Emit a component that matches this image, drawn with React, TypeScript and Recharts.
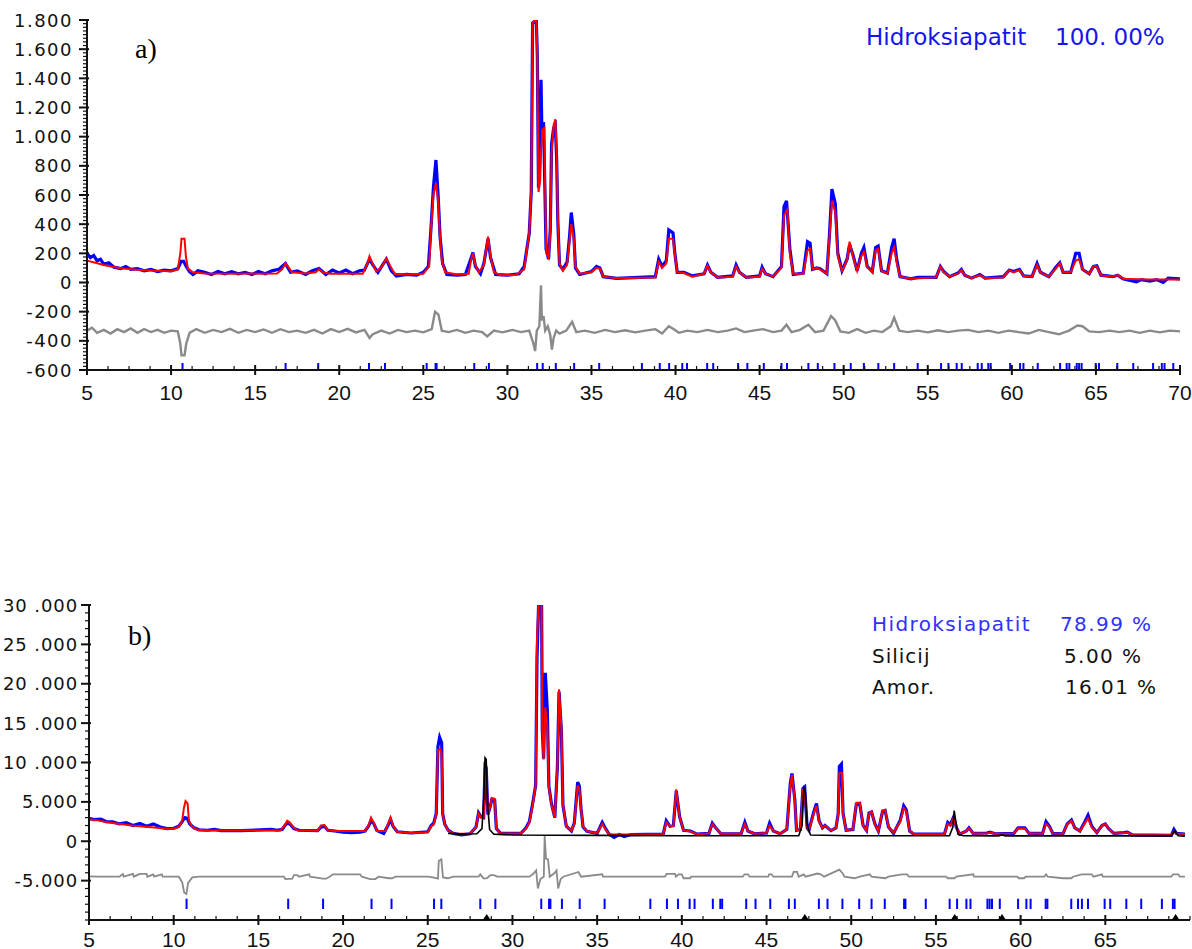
import React from 'react';
import { ComposedChart, Line, Scatter, XAxis, YAxis, ReferenceLine } from 'recharts';

type Pair = [number, number];

// ---- panel a) : 100 % hydroxyapatite ----
const obsA: Pair[] = [
  [5, 200], [5.2, 170], [5.4, 185], [5.6, 150], [5.8, 160], [6.0, 125], [6.3, 135], [6.6, 105], [7.0, 95], [7.3, 110],
  [7.6, 90], [8.0, 95], [8.4, 80], [8.8, 90], [9.2, 75], [9.6, 85], [10.0, 80], [10.4, 95], [10.6, 145], [10.75, 145],
  [10.9, 110], [11.1, 75], [11.3, 55], [11.6, 80], [12.0, 70], [12.4, 55], [12.8, 75], [13.2, 60], [13.6, 75], [14.0, 60],
  [14.4, 70], [14.8, 55], [15.2, 75], [15.6, 60], [16.0, 80], [16.4, 90], [16.8, 130], [17.1, 70], [17.5, 80], [18.0, 55],
  [18.4, 80], [18.8, 95], [19.2, 55], [19.6, 85], [20.0, 65], [20.4, 85], [20.8, 60], [21.2, 80], [21.5, 85], [21.8, 160],
  [22.0, 120], [22.3, 70], [22.8, 160], [23.1, 80], [23.4, 45], [24.0, 55], [24.6, 50], [25.0, 70], [25.3, 110], [25.45, 360],
  [25.6, 650], [25.75, 840], [25.88, 600], [26.0, 310], [26.15, 130], [26.4, 55], [27.0, 50], [27.5, 55], [27.85, 170], [27.95, 205],
  [28.1, 110], [28.4, 60], [28.6, 130], [28.85, 300], [29.0, 170], [29.3, 55], [30.0, 50], [30.7, 60], [31.0, 110], [31.3, 337],
  [31.42, 625], [31.5, 1780], [31.72, 1800], [31.78, 1560], [31.85, 650], [31.92, 800], [32.0, 1390], [32.05, 1050], [32.15, 1100], [32.22, 700],
  [32.3, 230], [32.45, 160], [32.55, 360], [32.63, 950], [32.75, 1060], [32.85, 1080], [32.93, 850], [33.0, 420], [33.1, 120], [33.3, 90],
  [33.55, 140], [33.7, 320], [33.8, 480], [33.95, 330], [34.05, 100], [34.3, 55], [35.0, 75], [35.3, 110], [35.5, 100], [35.7, 40],
  [36.5, 28], [38.8, 40], [39.0, 160], [39.2, 110], [39.45, 150], [39.6, 360], [39.85, 340], [39.95, 210], [40.1, 70], [40.5, 70],
  [41.0, 45], [41.7, 60], [41.9, 120], [42.1, 70], [42.5, 35], [43.4, 45], [43.6, 120], [43.8, 70], [44.2, 35], [45.0, 45],
  [45.15, 105], [45.35, 60], [45.8, 40], [46.3, 110], [46.45, 520], [46.6, 560], [46.8, 230], [47.0, 55], [47.6, 65], [47.85, 280],
  [48.0, 270], [48.15, 90], [48.4, 100], [48.6, 95], [49.0, 60], [49.15, 320], [49.3, 640], [49.5, 540], [49.65, 200], [49.9, 80],
  [50.2, 160], [50.35, 260], [50.55, 190], [50.8, 80], [51.05, 200], [51.2, 240], [51.4, 110], [51.7, 75], [51.9, 240], [52.05, 250],
  [52.25, 80], [52.6, 65], [52.85, 240], [53.0, 300], [53.15, 160], [53.35, 40], [54.0, 25], [54.4, 35], [55.5, 35], [55.75, 110],
  [55.95, 75], [56.3, 40], [56.8, 65], [57.0, 90], [57.2, 50], [57.6, 30], [58.1, 55], [58.4, 30], [59.5, 40], [59.85, 85],
  [60.1, 75], [60.45, 90], [60.7, 45], [61.2, 40], [61.5, 130], [61.7, 70], [62.2, 40], [62.65, 110], [62.85, 135], [63.05, 70],
  [63.5, 70], [63.8, 200], [64.0, 200], [64.2, 90], [64.6, 60], [64.85, 110], [65.05, 115], [65.3, 50], [66.0, 40], [66.3, 50],
  [66.6, 25], [67.4, 5], [67.7, 20], [68.2, 10], [68.6, 20], [69.0, 0], [69.3, 30], [70, 25],
];

const calcA: Pair[] = [
  [5, 150], [5.5, 135], [6, 120], [6.5, 108], [7, 98], [8, 88], [9, 80], [10, 78], [10.4, 90], [10.55, 200],
  [10.62, 300], [10.8, 300], [10.88, 180], [11.0, 95], [11.3, 70], [12, 62], [14, 60], [16.3, 62], [16.6, 90], [16.8, 130],
  [16.95, 110], [17.2, 70], [18, 62], [18.6, 70], [18.8, 92], [19.0, 70], [19.5, 60], [21.4, 60], [21.65, 120], [21.8, 180],
  [21.95, 140], [22.2, 75], [22.55, 110], [22.8, 165], [23.0, 120], [23.3, 60], [24, 55], [25, 60], [25.2, 90], [25.35, 110],
  [25.45, 350], [25.6, 600], [25.75, 680], [25.88, 560], [26.0, 300], [26.1, 150], [26.3, 70], [27, 55], [27.7, 60], [27.85, 160],
  [27.95, 200], [28.1, 120], [28.3, 70], [28.6, 120], [28.75, 240], [28.85, 315], [29.0, 180], [29.2, 70], [29.6, 50], [30.5, 52],
  [31.0, 90], [31.3, 337], [31.42, 625], [31.5, 1780], [31.72, 1810], [31.78, 1560], [31.85, 620], [31.95, 700], [32.0, 890], [32.1, 1050],
  [32.2, 1060], [32.25, 600], [32.32, 200], [32.45, 170], [32.55, 340], [32.63, 890], [32.75, 1080], [32.85, 1120], [32.93, 900], [33.0, 450],
  [33.1, 130], [33.3, 80], [33.55, 120], [33.7, 290], [33.8, 400], [33.95, 300], [34.05, 110], [34.3, 60], [35.0, 70], [35.3, 100],
  [35.5, 95], [35.7, 40], [36.5, 30], [38.8, 35], [39.0, 140], [39.2, 100], [39.45, 130], [39.6, 300], [39.85, 300], [39.95, 200],
  [40.1, 70], [40.5, 65], [41.0, 40], [41.7, 60], [41.9, 115], [42.1, 70], [42.5, 35], [43.4, 40], [43.6, 110], [43.8, 70],
  [44.2, 35], [45.0, 40], [45.15, 95], [45.35, 60], [45.8, 40], [46.3, 100], [46.45, 460], [46.65, 500], [46.8, 200], [47.0, 60],
  [47.6, 60], [47.85, 220], [48.0, 230], [48.15, 90], [48.4, 100], [48.6, 90], [49.0, 60], [49.15, 300], [49.3, 560], [49.5, 480],
  [49.65, 180], [49.9, 80], [50.2, 150], [50.35, 280], [50.55, 180], [50.8, 80], [51.05, 180], [51.2, 210], [51.4, 110], [51.7, 70],
  [51.9, 220], [52.05, 230], [52.25, 80], [52.6, 60], [52.85, 200], [53.0, 240], [53.15, 140], [53.35, 40], [54, 25], [55.5, 35],
  [55.75, 110], [55.95, 70], [56.3, 40], [56.8, 60], [57.0, 85], [57.2, 50], [57.6, 30], [58.1, 50], [58.4, 30], [59.5, 35],
  [59.85, 85], [60.1, 70], [60.45, 85], [60.7, 45], [61.2, 40], [61.5, 120], [61.7, 70], [62.2, 40], [62.65, 100], [62.85, 130],
  [63.05, 70], [63.5, 70], [63.8, 150], [64.0, 160], [64.2, 90], [64.6, 60], [64.85, 110], [65.05, 110], [65.3, 50], [66.0, 40],
  [66.3, 50], [66.6, 25], [68, 20], [70, 20],
];

const diffA: Pair[] = [
  [5, -330], [5.3, -310], [5.6, -345], [6.0, -325], [6.4, -350], [6.8, -320], [7.2, -340], [7.6, -315], [8.0, -345], [8.4, -320],
  [8.8, -340], [9.2, -325], [9.6, -345], [10.0, -330], [10.4, -335], [10.55, -420], [10.62, -500], [10.8, -500], [10.9, -420], [11.1, -345],
  [11.5, -320], [12, -345], [12.5, -325], [13, -340], [13.5, -318], [14, -345], [14.5, -325], [15, -340], [15.5, -322], [16, -345],
  [16.5, -320], [17, -340], [17.5, -330], [18, -345], [18.5, -325], [19, -350], [19.5, -320], [20, -340], [20.5, -318], [21, -342],
  [21.5, -325], [21.8, -380], [22.0, -355], [22.5, -330], [23, -350], [23.5, -325], [24, -340], [24.5, -330], [25, -342], [25.5, -320],
  [25.7, -200], [25.9, -220], [26.1, -330], [26.5, -340], [27, -325], [27.5, -345], [28, -330], [28.5, -340], [28.8, -370], [29.2, -330],
  [29.7, -342], [30.3, -325], [30.8, -340], [31.3, -330], [31.55, -420], [31.65, -470], [31.75, -330], [31.9, -300], [32.0, -20], [32.05, -260],
  [32.15, -230], [32.25, -330], [32.4, -300], [32.55, -360], [32.65, -460], [32.75, -380], [32.9, -330], [33.1, -350], [33.5, -330], [33.85, -270],
  [34.1, -340], [34.6, -330], [35.2, -345], [35.8, -325], [36.4, -340], [37, -328], [37.6, -342], [38.2, -330], [38.8, -320], [39.2, -350],
  [39.6, -300], [39.9, -320], [40.2, -345], [40.7, -330], [41.3, -340], [41.9, -325], [42.5, -340], [43.1, -330], [43.6, -315], [44.1, -340],
  [44.7, -328], [45.2, -320], [45.8, -340], [46.3, -330], [46.6, -290], [46.9, -340], [47.4, -325], [47.9, -290], [48.3, -340], [48.8, -330],
  [49.25, -230], [49.5, -260], [49.8, -335], [50.3, -345], [50.8, -320], [51.3, -345], [51.8, -330], [52.3, -340], [52.8, -300], [53.0, -240],
  [53.3, -330], [53.8, -340], [54.4, -330], [55, -342], [55.6, -328], [56.2, -340], [56.8, -330], [57.4, -325], [58, -340], [58.6, -330],
  [59.2, -345], [59.8, -330], [60.4, -340], [61, -350], [61.6, -325], [62.2, -340], [62.8, -355], [63.4, -330], [63.9, -295], [64.2, -300],
  [64.6, -335], [65.2, -340], [65.8, -330], [66.4, -340], [67, -330], [67.6, -345], [68.2, -330], [68.8, -342], [69.4, -330], [70, -335],
];

const hklA = [
  10.68, 16.81, 18.75, 21.77, 22.72, 25.2, 25.73, 25.79, 28.03, 28.9, 31.77, 32.1, 32.88, 33.97, 35.46, 38.0, 39.06, 39.62,
  40.4, 40.68, 41.88, 42.24, 43.72, 44.27, 45.25, 46.3, 46.63, 47.9, 48.46, 49.45, 50.42, 51.2, 52.06, 53.0, 54.4, 55.79,
  56.23, 56.72, 57.02, 57.97, 58.21, 58.6, 58.74, 59.9, 60.49, 60.69, 61.54, 62.87, 63.26, 63.42, 63.86, 64.0, 64.15, 64.99,
  65.18, 66.27, 67.22, 68.4, 68.92, 69.08, 69.6,
];

const yMajorA = [-600, -400, -200, 0, 200, 400, 600, 800, 1000, 1200, 1400, 1600, 1800];
const yLabelsA = ['-600', '-400', '-200', '0', '200', '400', '600', '800', '1.000', '1.200', '1.400', '1.600', '1.800'];
const xMajorA = [5, 10, 15, 20, 25, 30, 35, 40, 45, 50, 55, 60, 65, 70];
const xLabelsA = ['5', '10', '15', '20', '25', '30', '35', '40', '45', '50', '55', '60', '65', '70'];

// ---- panel b) : hydroxyapatite + silicon standard + amorphous ----
const obsB: Pair[] = [
  [5, 2900], [5.3, 2750], [5.7, 2800], [6.0, 2500], [6.4, 2450], [6.8, 2200], [7.2, 2350], [7.6, 2000], [8.0, 2250], [8.4, 1900],
  [8.8, 2200], [9.2, 1800], [9.6, 1600], [10.0, 1650], [10.3, 1900], [10.5, 2500], [10.65, 3000], [10.8, 2900], [10.95, 2200], [11.2, 1700],
  [11.5, 1450], [12.0, 1400], [12.4, 1500], [12.8, 1350], [14, 1350], [15.8, 1500], [16.1, 1400], [16.4, 1500], [16.6, 2100], [16.75, 2300],
  [16.9, 2100], [17.1, 1600], [17.4, 1400], [18.5, 1350], [18.7, 1800], [18.9, 1900], [19.1, 1400], [19.5, 1300], [20.0, 1150], [20.5, 1100],
  [21.0, 1150], [21.3, 1300], [21.5, 1900], [21.65, 2600], [21.8, 2300], [22.0, 1350], [22.4, 1000], [22.65, 2000], [22.8, 2800], [22.95, 1900],
  [23.2, 1200], [24, 1050], [25, 1200], [25.2, 2000], [25.35, 2300], [25.5, 3500], [25.6, 12000], [25.7, 13200], [25.82, 12500], [25.88, 3500],
  [26.0, 2200], [26.2, 1400], [26.5, 1000], [27.0, 800], [27.5, 950], [27.85, 1800], [28.0, 3600], [28.15, 3100], [28.3, 3000], [28.38, 9500],
  [28.45, 9300], [28.55, 3400], [28.7, 4500], [28.78, 5300], [28.95, 5200], [29.05, 1600], [29.3, 1000], [30.5, 1000], [30.8, 1700], [31.0, 2500],
  [31.2, 4900], [31.37, 7100], [31.45, 23300], [31.55, 30500], [31.72, 30300], [31.76, 14200], [31.84, 10500], [31.94, 21400], [32.06, 16500], [32.15, 7000],
  [32.3, 4800], [32.5, 3000], [32.65, 9300], [32.75, 19000], [32.89, 14000], [32.98, 4600], [33.18, 1900], [33.48, 1300], [33.65, 2300], [33.85, 7500],
  [33.95, 7000], [34.05, 4100], [34.17, 1800], [34.4, 1250], [35.0, 1000], [35.3, 2400], [35.5, 1600], [35.7, 900], [36.0, 500], [36.3, 850],
  [36.6, 600], [37, 850], [38.9, 900], [39.08, 2600], [39.3, 1900], [39.5, 2000], [39.67, 6400], [39.87, 3100], [40.1, 1400], [40.5, 1300],
  [40.9, 900], [41.6, 1000], [41.8, 2300], [42.0, 1700], [42.3, 950], [43.5, 950], [43.72, 2400], [43.9, 1300], [44.3, 950], [45.0, 1050],
  [45.18, 2300], [45.4, 1300], [45.8, 950], [46.2, 1500], [46.4, 7300], [46.5, 8600], [46.67, 5300], [46.77, 1400], [47.0, 1500], [47.15, 6700],
  [47.25, 6900], [47.4, 1700], [47.5, 1400], [47.8, 3800], [47.95, 4800], [48.1, 2600], [48.3, 1700], [48.45, 2000], [48.8, 1350], [49.1, 1700],
  [49.23, 3500], [49.3, 9500], [49.42, 9800], [49.52, 3500], [49.7, 1400], [50.1, 1500], [50.3, 4700], [50.5, 4800], [50.7, 2000], [50.9, 1400],
  [51.05, 3600], [51.2, 3700], [51.4, 2200], [51.6, 1300], [51.85, 3800], [52.0, 3900], [52.2, 1800], [52.5, 1000], [52.9, 2700], [53.1, 4500],
  [53.25, 4000], [53.45, 1300], [53.7, 900], [55.5, 900], [55.7, 2400], [55.85, 2100], [56.05, 3100], [56.2, 1800], [56.4, 900], [56.8, 1300],
  [56.95, 1700], [57.2, 1000], [58, 1050], [58.2, 1150], [58.5, 950], [59.6, 1000], [59.85, 1700], [60.25, 1700], [60.5, 1000], [61.3, 1000],
  [61.5, 2500], [61.7, 1900], [61.9, 1000], [62.5, 950], [62.75, 2200], [63.0, 2700], [63.2, 1700], [63.5, 1300], [63.8, 2500], [63.98, 3300],
  [64.2, 1900], [64.5, 1100], [64.8, 2000], [65.0, 2200], [65.2, 1600], [65.5, 1000], [66.1, 1100], [66.3, 1150], [66.6, 800], [68.9, 750],
  [69.05, 1500], [69.2, 1000], [69.7, 900],
];

const calcB: Pair[] = [
  [5, 2800], [5.5, 2650], [6, 2450], [6.5, 2300], [7, 2150], [7.5, 2000], [8, 1900], [8.5, 1800], [9, 1700], [9.5, 1600],
  [10.0, 1600], [10.3, 1800], [10.5, 2600], [10.6, 4200], [10.7, 5100], [10.82, 4800], [10.9, 2600], [11.1, 1800], [11.4, 1450], [12, 1380],
  [14, 1350], [16.3, 1380], [16.55, 2000], [16.7, 2600], [16.85, 2400], [17.05, 1800], [17.3, 1400], [18.5, 1350], [18.7, 2000], [18.9, 2050],
  [19.1, 1400], [19.5, 1300], [21.3, 1300], [21.5, 2000], [21.65, 3000], [21.8, 2400], [22.0, 1300], [22.5, 1300], [22.65, 2200], [22.8, 3000],
  [22.95, 2000], [23.2, 1200], [24, 1050], [25, 1150], [25.2, 1900], [25.35, 2100], [25.5, 3400], [25.6, 11600], [25.75, 11700], [25.82, 11050],
  [25.88, 3450], [26.0, 2200], [26.2, 1400], [26.5, 1000], [27.5, 950], [27.85, 1800], [28.0, 3500], [28.15, 3000], [28.3, 3000], [28.38, 9800],
  [28.45, 9600], [28.55, 3400], [28.7, 4500], [28.78, 5500], [28.95, 5400], [29.05, 1600], [29.3, 1000], [30.5, 1000], [30.8, 1600], [31.0, 2400],
  [31.2, 4700], [31.37, 7050], [31.45, 25800], [31.55, 30500], [31.72, 30500], [31.76, 14000], [31.84, 10400], [31.94, 17000], [32.06, 14400], [32.15, 6800],
  [32.3, 4700], [32.5, 3000], [32.65, 9200], [32.75, 19300], [32.89, 14400], [32.98, 4700], [33.18, 1900], [33.48, 1350], [33.65, 2200], [33.85, 7100],
  [33.95, 6600], [34.05, 4100], [34.17, 1900], [34.4, 1300], [35.0, 1000], [35.3, 2200], [35.5, 1500], [35.7, 900], [36.5, 850], [38.9, 900],
  [39.08, 2400], [39.3, 1900], [39.5, 1900], [39.67, 6600], [39.87, 3000], [40.1, 1400], [40.5, 1250], [40.9, 900], [41.6, 1000], [41.8, 2200],
  [42.0, 1700], [42.3, 950], [43.5, 950], [43.72, 2200], [43.9, 1300], [44.3, 950], [45.0, 1050], [45.18, 2000], [45.4, 1300], [45.8, 950],
  [46.2, 1500], [46.4, 7000], [46.5, 8400], [46.67, 5200], [46.77, 1400], [47.0, 1500], [47.15, 6500], [47.25, 6500], [47.4, 1700], [47.5, 1400],
  [47.8, 3600], [47.95, 4500], [48.1, 2500], [48.3, 1700], [48.45, 2000], [48.8, 1350], [49.1, 1700], [49.23, 3450], [49.3, 8700], [49.45, 8700],
  [49.52, 3450], [49.7, 1400], [50.1, 1500], [50.3, 4900], [50.5, 4900], [50.7, 2000], [50.9, 1400], [51.05, 3500], [51.2, 3800], [51.4, 2100],
  [51.6, 1300], [51.85, 3900], [52.0, 4000], [52.2, 1800], [52.5, 1100], [52.9, 2500], [53.1, 4200], [53.25, 3800], [53.45, 1300], [53.7, 900],
  [55.5, 900], [55.7, 2200], [55.85, 2000], [56.05, 3000], [56.2, 1800], [56.4, 900], [56.8, 1300], [56.95, 1650], [57.2, 1000], [58, 1000],
  [58.2, 1100], [58.5, 950], [59.6, 1000], [59.85, 1650], [60.25, 1600], [60.5, 1000], [61.3, 1000], [61.5, 2200], [61.7, 1800], [61.9, 1000],
  [62.5, 950], [62.75, 2100], [63.0, 2600], [63.2, 1700], [63.5, 1300], [63.8, 2300], [63.98, 2900], [64.2, 1800], [64.5, 1100], [64.8, 2000],
  [65.0, 2200], [65.2, 1600], [65.5, 1000], [66.1, 1050], [66.3, 1100], [66.6, 800], [68.9, 750], [69.05, 1200], [69.2, 1000], [69.7, 900],
];

const siliconB: Pair[] = [
  [26.2, 1000], [27, 900], [27.9, 950], [28.2, 1600], [28.32, 6000], [28.38, 10600], [28.45, 10400], [28.52, 5000], [28.65, 1500], [28.9, 900],
  [30, 800], [35, 750], [40, 700], [46.9, 700], [47.1, 2000], [47.2, 6800], [47.28, 6500], [47.4, 2000], [47.6, 800], [50, 700],
  [55.8, 700], [56.0, 1800], [56.08, 3900], [56.15, 2800], [56.3, 900], [56.6, 700], [58.7, 680], [58.9, 800], [59.1, 680], [68.9, 680],
  [69.1, 1300], [69.3, 700], [69.7, 650],
];

const diffB: Pair[] = [
  [5, -4450], [5.5, -4480], [6.8, -4500], [7.0, -4150], [7.05, -4500], [7.6, -4150], [7.65, -4500], [8.0, -4150], [8.4, -4150], [8.45, -4500],
  [8.8, -4200], [8.85, -4500], [9.3, -4200], [9.35, -4500], [10.3, -4500], [10.5, -5200], [10.62, -6500], [10.75, -6700], [10.85, -5300], [11.1, -4600],
  [11.5, -4500], [16.5, -4500], [16.6, -4800], [17.0, -4750], [17.1, -4300], [17.3, -4300], [17.4, -4500], [18, -4200], [18.05, -4500], [18.8, -4750],
  [19.0, -4750], [19.2, -4500], [19.4, -4200], [21, -4200], [21.1, -4500], [21.6, -4800], [21.9, -4800], [22.1, -4500], [22.7, -4700], [22.9, -4700],
  [23.1, -4500], [25.0, -4500], [25.3, -4600], [25.6, -4750], [25.65, -2500], [25.8, -2300], [25.9, -4600], [26.2, -4700], [26.5, -4500], [28.0, -4500],
  [28.1, -4200], [28.3, -4750], [28.5, -4700], [28.7, -4300], [28.9, -4300], [29.1, -4500], [31.0, -4500], [31.2, -4200], [31.4, -3700], [31.5, -6000],
  [31.65, -4800], [31.85, -4500], [31.9, 800], [31.98, -2200], [32.1, -2300], [32.2, -4500], [32.5, -4000], [32.6, -3700], [32.7, -6000], [32.85, -4800],
  [33.0, -4500], [33.9, -3900], [34.05, -4500], [35.3, -4200], [35.35, -4500], [39.0, -4500], [39.1, -4150], [39.6, -4150], [39.65, -4500], [39.8, -4200],
  [40.0, -4200], [40.1, -4700], [40.5, -4700], [40.55, -4500], [43.6, -4500], [43.7, -4200], [43.9, -4200], [44.0, -4500], [45.1, -4500], [45.15, -4200],
  [45.3, -4200], [45.4, -4500], [46.5, -4500], [46.6, -3900], [46.8, -3900], [46.9, -4500], [47.2, -4200], [47.3, -4500], [48.0, -4100], [48.2, -4200],
  [48.4, -4500], [49.3, -3600], [49.5, -4100], [49.6, -4500], [50.2, -4700], [50.5, -4500], [51.1, -4200], [51.2, -4500], [52.0, -4700], [52.2, -4500],
  [53.0, -4200], [53.3, -4200], [53.4, -4500], [55.6, -4500], [55.7, -4700], [56.1, -4700], [56.2, -4500], [57.2, -4200], [57.25, -4500], [59.8, -4500],
  [59.9, -4700], [60.2, -4700], [60.3, -4500], [61.4, -4500], [61.5, -4200], [61.6, -4500], [62.5, -4700], [63.0, -4700], [63.1, -4500], [63.6, -4200],
  [64.2, -4200], [64.3, -4500], [64.8, -4200], [64.85, -4500], [68.9, -4500], [69.0, -4200], [69.3, -4200], [69.4, -4500], [69.7, -4500],
];

const hklB = [
  10.76, 16.76, 18.82, 21.68, 22.86, 25.37, 25.8, 28.1, 28.99, 31.7, 32.16, 32.24, 32.92, 33.97, 35.44, 38.14, 39.12, 39.77,
  40.46, 40.75, 41.83, 42.27, 42.38, 43.8, 44.35, 45.22, 46.32, 46.67, 48.09, 48.6, 49.48, 50.47, 51.2, 51.98, 53.12, 53.2,
  54.4, 55.81, 56.25, 56.8, 57.04, 58.04, 58.17, 58.31, 58.77, 59.85, 60.34, 60.59, 61.48, 61.58, 62.99, 63.39, 63.62, 63.98,
  64.96, 65.29, 66.24, 67.12, 68.34, 68.99, 69.09,
];
const hklSilicon = [28.48, 47.26, 56.11, 58.9, 69.15];

const yMajorB = [-5000, 0, 5000, 10000, 15000, 20000, 25000, 30000];
const yLabelsB = ['-5.000', '0', '5.000', '10 .000', '15 .000', '20 .000', '25 .000', '30 .000'];
const xMajorB = [5, 10, 15, 20, 25, 30, 35, 40, 45, 50, 55, 60, 65];
const xLabelsB = ['5', '10', '15', '20', '25', '30', '35', '40', '45', '50', '55', '60', '65'];

const pts = (pairs: Pair[]) => pairs.map(([x, y]) => ({ x, y }));
const steps = (from: number, to: number, step: number) => {
  const out: number[] = [];
  for (let v = from; v <= to + 1e-9; v += step) out.push(Math.round(v * 100) / 100);
  return out;
};

const ink = '#111';

// y tick: short minor mark, or long mark + label; labelGap = distance from axis to label end
const makeYTick = (major: number[], labels: string[], labelGap: number, spacing: number) => (props: any) => {
  const { x, y, payload } = props;
  const ax = x + 14;
  const i = major.indexOf(payload.value);
  if (i < 0) return <line x1={ax - 4} x2={ax} y1={y} y2={y} stroke={ink} strokeWidth={1.2} />;
  return (
    <g>
      <line x1={ax - 8} x2={ax + 2} y1={y} y2={y} stroke={ink} strokeWidth={2} />
      <text x={ax - labelGap} y={y + 6.5} textAnchor="end" fontFamily="DejaVu Sans" fontSize={18} letterSpacing={spacing} fill={ink}>
        {labels[i]}
      </text>
    </g>
  );
};

const makeXTick = (major: number[], labels: string[], base: number) => (props: any) => {
  const { x, y, payload } = props;
  const ay = y - 12;
  const i = major.indexOf(payload.value);
  if (i < 0) return <line x1={x} x2={x} y1={ay - 4} y2={ay} stroke={ink} strokeWidth={1.2} />;
  return (
    <g>
      <line x1={x} x2={x} y1={ay - 5} y2={ay + 5} stroke={ink} strokeWidth={2} />
      <text x={x} y={ay + base} textAnchor="middle" fontFamily="Liberation Sans" fontSize={21} fill={ink}>
        {labels[i]}
      </text>
    </g>
  );
};

const lineProps = { dataKey: 'y', dot: false, isAnimationActive: false, type: 'linear' as const };

function PanelA() {
  return (
    <ComposedChart width={1192} height={410} margin={{ top: 20, right: 12, bottom: 0, left: 0 }}>
      <XAxis
        type="number" dataKey="x" domain={[5, 70]} ticks={steps(5, 70, 1.25)} interval={0}
        height={40} tickSize={8} tickMargin={4} tickLine={false}
        axisLine={{ stroke: ink, strokeWidth: 2 }} tick={makeXTick(xMajorA, xLabelsA, 30)}
      />
      <YAxis
        type="number" dataKey="y" domain={[-600, 1800]} ticks={steps(-600, 1800, 25)} interval={0}
        width={87} tickSize={8} tickMargin={6} tickLine={false} allowDataOverflow
        axisLine={{ stroke: ink, strokeWidth: 2 }} tick={makeYTick(yMajorA, yLabelsA, 14, 1.5)}
      />
      <Line {...lineProps} data={pts(diffA)} stroke="#8a8a8a" strokeWidth={2.4} />
      <Line {...lineProps} data={pts(obsA)} stroke="#0000ff" strokeWidth={3.2} />
      <Line {...lineProps} data={pts(calcA)} stroke="#ff0000" strokeWidth={2} />
      {hklA.map((t) => (
        <ReferenceLine key={t} segment={[{ x: t, y: -552 }, { x: t, y: -598 }]} stroke="#0000ff" strokeWidth={2} />
      ))}
    </ComposedChart>
  );
}

function PanelB() {
  const triangle = (p: any) => (
    <path d={`M${p.cx - 4},${p.cy} L${p.cx},${p.cy - 6} L${p.cx + 4},${p.cy} Z`} fill="#000" />
  );
  return (
    <ComposedChart width={1192} height={359} margin={{ top: 15, right: 2, bottom: 0, left: 0 }}>
      <XAxis
        type="number" dataKey="x" domain={[5, 70]} ticks={steps(5, 70, 1.25)} interval={0}
        height={29} tickSize={8} tickMargin={4} tickLine={false}
        axisLine={{ stroke: ink, strokeWidth: 2 }} tick={makeXTick(xMajorB, xLabelsB, 26.5)}
      />
      <YAxis
        type="number" dataKey="y" domain={[-10000, 30000]} ticks={steps(-10000, 30000, 1000)} interval={0}
        width={89} tickSize={8} tickMargin={6} tickLine={false} allowDataOverflow
        axisLine={{ stroke: ink, strokeWidth: 2 }} tick={makeYTick(yMajorB, yLabelsB, 11, 0.9)}
      />
      <Line {...lineProps} data={pts(diffB)} stroke="#8a8a8a" strokeWidth={1.8} />
      <Line {...lineProps} data={pts(obsB)} stroke="#0000ff" strokeWidth={3.2} />
      <Line {...lineProps} data={pts(calcB)} stroke="#ff0000" strokeWidth={2} />
      <Line {...lineProps} data={pts(siliconB)} stroke="#000000" strokeWidth={1.6} />
      {hklB.map((t) => (
        <ReferenceLine key={t} segment={[{ x: t, y: -7300 }, { x: t, y: -8600 }]} stroke="#0000ff" strokeWidth={2} />
      ))}
      <Scatter data={hklSilicon.map((x) => ({ x, y: -10000 }))} shape={triangle} isAnimationActive={false} />
    </ComposedChart>
  );
}

export default function App() {
  const label = { fontFamily: 'DejaVu Sans' };
  return (
    <div style={{ position: 'absolute', left: 0, top: 0, width: 1192, height: 949, background: '#fff', overflow: 'hidden' }}>
      <div style={{ position: 'absolute', left: 0, top: 0 }}>
        <PanelA />
      </div>
      <div style={{ position: 'absolute', left: 0, top: 590 }}>
        <PanelB />
      </div>
      <svg width={1192} height={949} style={{ position: 'absolute', left: 0, top: 0, pointerEvents: 'none' }}>
        <text x={135} y={58} fontFamily="Liberation Serif" fontSize={28} fill="#000">a)</text>
        <text x={128} y={645} fontFamily="Liberation Serif" fontSize={28} fill="#000">b)</text>
        <text x={866} y={45} {...label} fontSize={23} fill="#1414f0">Hidroksiapatit</text>
        <text x={1055} y={45} {...label} fontSize={23} fill="#1414f0">100. 00%</text>
        <text x={872} y={631} {...label} fontSize={20} letterSpacing={1.4} fill="#3030ff">Hidroksiapatit</text>
        <text x={1060} y={631} {...label} fontSize={20} letterSpacing={1.4} fill="#3030ff">78.99 %</text>
        <text x={872} y={663} {...label} fontSize={20} letterSpacing={1} fill="#111">Silicij</text>
        <text x={1064} y={663} {...label} fontSize={20} letterSpacing={1.4} fill="#111">5.00 %</text>
        <text x={872} y={694} {...label} fontSize={20} letterSpacing={1} fill="#111">Amor.</text>
        <text x={1065} y={694} {...label} fontSize={20} letterSpacing={1.4} fill="#111">16.01 %</text>
      </svg>
    </div>
  );
}
